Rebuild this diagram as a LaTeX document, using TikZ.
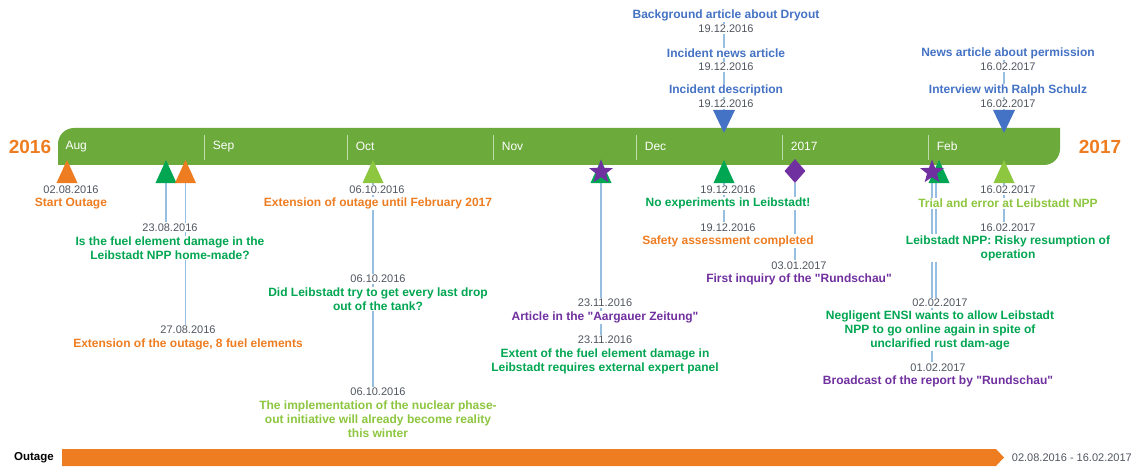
\documentclass[tikz,border=0pt]{standalone}
\usepackage{fontspec}
\setmainfont{Liberation Sans}
\usetikzlibrary{shapes.geometric}
\pgfdeclarelayer{back}
\pgfsetlayers{back,main}
\definecolor{barg}{RGB}{108,170,60}
\definecolor{orng}{RGB}{238,125,33}
\definecolor{dgrn}{RGB}{0,166,81}
\definecolor{lgrn}{RGB}{141,198,63}
\definecolor{purp}{RGB}{112,48,160}
\definecolor{blu}{RGB}{68,114,196}
\definecolor{datec}{RGB}{80,85,95}
\definecolor{stemc}{RGB}{150,190,225}
\definecolor{sepc}{RGB}{190,220,170}
\newcommand{\qt}{\textquotedbl}
\tikzset{every picture/.style = {x=1pt, y=-1pt}}
\tikzset{date/.style = {fill=white, inner sep=1, text=datec, font=\fontsize{11}{13}\selectfont}}
\tikzset{head/.style = {fill=white, inner sep=1, align=center, font=\bfseries\fontsize{12}{14}\selectfont}}
\tikzset{stem/.style = {stemc, line width=1.5}}
\tikzset{month/.style = {white, anchor=west, font=\fontsize{12}{14}\selectfont}}
\tikzset{year/.style = {text=orng, font=\bfseries\fontsize{19}{22}\selectfont}}
\tikzset{up/.pic = {\fill (-10.5,11.5) -- (10.5,11.5) -- (0,-11.5) -- cycle;}}
\tikzset{down/.pic = {\fill (-11,-11.5) -- (11,-11.5) -- (0,11.5) -- cycle;}}
\tikzset{starmark/.style = {star, star points=5, star point ratio=2.4, minimum size=25, inner sep=0, fill=purp}}
\begin{document}
\begin{tikzpicture}
  \useasboundingbox (0,0) rectangle (1138,468);
  \fill[barg] (58,165) -- (58,144) arc (180:270:16) -- (1060,128)
    -- (1060,149) arc (0:90:16) -- cycle;
  \foreach \x/\m in {204/Sep, 347/Oct, 493/Nov, 636/Dec, 782/2017, 928/Feb}
    \draw[sepc, line width=1] (\x,135) -- (\x,160) node[month] (mo-\m) at (\x+5,146.5) {\m};
  \node[month] (mo-Aug) at (62,146.5) {Aug};
  \node[year] (y1) at (30,146.5) {2016};
  \node[year] (y2) at (1100,146.5) {2017};

  \node[date] (d1) at (71,190) {02.08.2016};
  \node[head, text=orng] (h1) at (71,203.5) {Start Outage};
  \node[date] (d2) at (170,227.5) {23.08.2016};
  \node[head, text=dgrn] (h2) at (170,248) {Is the fuel element damage in the\\Leibstadt NPP home-made?};
  \node[date] (d3) at (188,330) {27.08.2016};
  \node[head, text=orng] (h3) at (188,344) {Extension of the outage, 8 fuel elements};
  \node[date] (d4) at (377,190) {06.10.2016};
  \node[head, text=orng] (h4) at (378,203.5) {Extension of outage until February 2017};
  \node[date] (d5) at (378,279) {06.10.2016};
  \node[head, text=dgrn] (h5) at (378,299) {Did Leibstadt try to get every last drop\\out of the tank?};
  \node[date] (d6) at (378,392) {06.10.2016};
  \node[head, text=lgrn] (h6) at (378,419) {The implementation of the nuclear phase-\\out initiative will already become reality\\this winter};
  \node[date] (d7) at (605,303) {23.11.2016};
  \node[head, text=purp] (h7) at (605,317.5) {Article in the \qt Aargauer Zeitung\qt};
  \node[date] (d8) at (605,340) {23.11.2016};
  \node[head, text=dgrn] (h8) at (605,361.5) {Extent of the fuel element damage in\\Leibstadt requires external expert panel};
  \node[date] (d9) at (728,190) {19.12.2016};
  \node[head, text=dgrn] (h9) at (728,203.5) {No experiments in Leibstadt!};
  \node[date] (d10) at (728,227.5) {19.12.2016};
  \node[head, text=orng] (h10) at (728,241) {Safety assessment completed};
  \node[date] (d11) at (799,265.5) {03.01.2017};
  \node[head, text=purp] (h11) at (799,279.5) {First inquiry of the \qt Rundschau\qt};
  \node[date] (d12) at (940,303) {02.02.2017};
  \node[head, text=dgrn] (h12) at (940,330.5) {Negligent ENSI wants to allow Leibstadt\\NPP to go online again in spite of\\unclarified rust dam-age};
  \node[date] (d13) at (938,367.5) {01.02.2017};
  \node[head, text=purp] (h13) at (938,381) {Broadcast of the report by \qt Rundschau\qt};
  \node[date] (d14) at (1008,190) {16.02.2017};
  \node[head, text=lgrn] (h14) at (1008,203.5) {Trial and error at Leibstadt NPP};
  \node[date] (d15) at (1008,227.5) {16.02.2017};
  \node[head, text=dgrn] (h15) at (1008,248) {Leibstadt NPP: Risky resumption of\\operation};

  \node[head, text=blu] (a1) at (726,15) {Background article about Dryout};
  \node[date] (b1) at (726,29) {19.12.2016};
  \node[head, text=blu] (a2) at (726,53) {Incident news article};
  \node[date] (b2) at (726,67) {19.12.2016};
  \node[head, text=blu] (a3) at (726,90.5) {Incident description};
  \node[date] (b3) at (726,104) {19.12.2016};
  \node[head, text=blu] (a4) at (1008,53) {News article about permission};
  \node[date] (b4) at (1008,67) {16.02.2017};
  \node[head, text=blu] (a5) at (1008,90.5) {Interview with Ralph Schulz};
  \node[date] (b5) at (1008,104) {16.02.2017};

  \coordinate (m1) at (67,171.5);
  \coordinate (m2) at (166,171.5);
  \coordinate (m3) at (185.5,171.5);
  \coordinate (m4) at (373,171.5);
  \coordinate (m5) at (601,171.5);
  \coordinate (m7) at (724,171.5);
  \coordinate (m10) at (939,171.5);
  \coordinate (m11) at (1004,171.5);
  \coordinate (n1) at (724,121.5);
  \coordinate (n2) at (1004,121.5);
  \pic[orng] at (m1) {up};
  \pic[dgrn] at (m2) {up};
  \pic[orng] at (m3) {up};
  \pic[lgrn] at (m4) {up};
  \pic[dgrn] at (m5) {up};
  \pic[dgrn] at (m7) {up};
  \pic[dgrn] at (m10) {up};
  \pic[lgrn] at (m11) {up};
  \pic[blu] at (n1) {down};
  \pic[blu] at (n2) {down};
  \node[starmark] (m6) at (601,172) {};
  \node[starmark] (m9) at (932,172) {};
  \node[diamond, fill=purp, minimum width=21, minimum height=24, inner sep=0] (m8) at (795,171) {};

  \begin{pgfonlayer}{back}
    \draw[stem] (m2) -- (m2 |- d2.north);
    \draw[stem] (m3) -- (m3 |- d3.north);
    \draw[stem] (m4) -- (m4 |- d6.north);
    \draw[stem] (m6) -- (m6 |- d7.north);
    \draw[stem] (m5) -- (m5 |- d8.north);
    \draw[stem] (m7) -- (m7 |- d10.north);
    \draw[stem] (m8) -- (m8 |- d11.north);
    \draw[stem] (m9) -- (m9 |- d13.north);
    \draw[stem] (m10.center) ++(-3,0) coordinate (m10s) -- (m10s |- d12.north);
    \draw[stem] (m11) -- (m11 |- d15.north);
    \draw[stem] (n1) -- (n1 |- a1.south);
    \draw[stem] (n2) -- (n2 |- a4.south);
  \end{pgfonlayer}

  \node[font=\bfseries\fontsize{11.5}{13}\selectfont] (ot) at (34,458) {Outage};
  \fill[orng] (62,449) -- (996,449) -- (1004,457.5) -- (996,466) -- (62,466) -- cycle;
  \node[date, fill=none, anchor=east] (or) at (1133,458) {02.08.2016 - 16.02.2017};
\end{tikzpicture}
\end{document}
